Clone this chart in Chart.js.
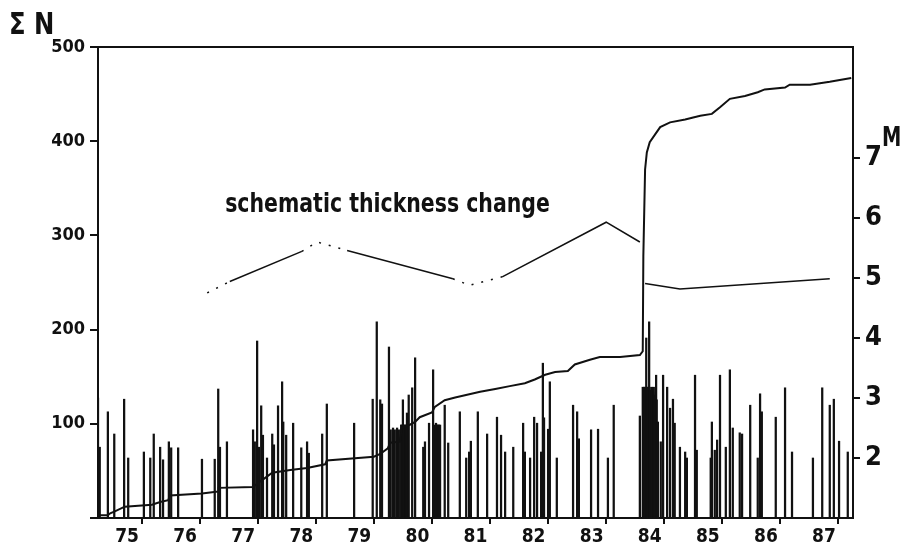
<!DOCTYPE html>
<html>
<head>
  <title>Cumulative events and magnitudes</title>
  <script src="https://cdn.jsdelivr.net/npm/chart.js@4"></script>
  <style>
    body { margin: 0; background: #fff; }
    #wrap { width: 904px; height: 544px; position: relative; }
  </style>
</head>
<body>
<div id="wrap"><canvas id="chart"></canvas></div>
<script>
// cumulative number of events (left axis)
const cumYears = [1975.00, 1975.17, 1975.21, 1975.29, 1975.46, 1975.93, 1976.07, 1976.21, 1976.24, 1976.79,
  1977.07, 1977.08, 1977.67, 1977.82, 1978.00, 1978.31, 1978.60, 1978.91, 1978.94, 1979.75,
  1979.86, 1979.99, 1980.03, 1980.20, 1980.23, 1980.37, 1980.46, 1980.54, 1980.75, 1980.80,
  1980.97, 1981.15, 1981.58, 1981.84, 1982.09, 1982.35, 1982.52, 1982.70, 1982.87, 1983.09,
  1983.21, 1983.47, 1983.64, 1983.99, 1984.33, 1984.38, 1984.39, 1984.42, 1984.45, 1984.50,
  1984.59, 1984.68, 1984.85, 1985.11, 1985.37, 1985.57, 1985.71, 1985.88, 1986.14, 1986.36,
  1986.48, 1986.83, 1986.91, 1987.26, 1987.60, 1987.97];
const cumCounts = [3, 3, 5, 7, 12, 14, 17, 19, 24, 26,
  28, 32, 33, 40, 48, 51, 53, 57, 61, 65,
  68, 74, 80, 81, 96, 99, 102, 107, 112, 118,
  125, 128, 134, 137, 140, 143, 147, 152, 155, 156,
  163, 168, 171, 171, 173, 177, 278, 370, 388, 399,
  407, 415, 420, 423, 427, 429, 436, 445, 448, 452,
  455, 457, 460, 460, 463, 467];

// schematic thickness change (drawn against the left axis)
const thickYears = [1976.88, 1977.27, 1978.51, 1978.77, 1979.29, 1981.11, 1981.40, 1981.96, 1983.75, 1984.33];
const thickValues = [239, 251, 283, 293, 284, 254, 247, 256, 314, 293];
const thickYears2 = [1984.42, 1985.02, 1987.60];
const thickValues2 = [249, 243, 254];

// single events: time and magnitude M (right axis)
const eventYears = [1975.00, 1975.03, 1975.17, 1975.28, 1975.45, 1975.52, 1975.79, 1975.90, 1975.96, 1976.07,
  1976.12, 1976.22, 1976.26, 1976.38, 1976.79, 1977.01, 1977.07, 1977.10, 1977.22, 1977.67,
  1977.70, 1977.74, 1977.77, 1977.81, 1977.84, 1977.91, 1978.00, 1978.03, 1978.10, 1978.17,
  1978.19, 1978.24, 1978.36, 1978.50, 1978.60, 1978.63, 1978.86, 1978.94, 1979.41, 1979.73,
  1979.80, 1979.86, 1979.89, 1980.01, 1980.04, 1980.08, 1980.11, 1980.15, 1980.18, 1980.22,
  1980.23, 1980.25, 1980.27, 1980.29, 1980.30, 1980.32, 1980.35, 1980.41, 1980.46, 1980.60,
  1980.63, 1980.70, 1980.77, 1980.80, 1980.82, 1980.84, 1980.85, 1980.87, 1980.89, 1980.97,
  1981.03, 1981.23, 1981.34, 1981.39, 1981.42, 1981.54, 1981.70, 1981.87, 1981.94, 1982.01,
  1982.15, 1982.32, 1982.35, 1982.44, 1982.51, 1982.56, 1982.63, 1982.66, 1982.68, 1982.75,
  1982.78, 1982.90, 1983.18, 1983.25, 1983.28, 1983.49, 1983.61, 1983.78, 1983.88, 1984.33,
  1984.38, 1984.40, 1984.42, 1984.44, 1984.45, 1984.47, 1984.49, 1984.50, 1984.52, 1984.54,
  1984.56, 1984.57, 1984.59, 1984.61, 1984.62, 1984.64, 1984.69, 1984.73, 1984.80, 1984.85,
  1984.90, 1984.93, 1985.02, 1985.11, 1985.14, 1985.28, 1985.31, 1985.55, 1985.57, 1985.62,
  1985.66, 1985.71, 1985.81, 1985.88, 1985.93, 1986.05, 1986.09, 1986.23, 1986.36, 1986.40,
  1986.43, 1986.67, 1986.83, 1986.95, 1987.31, 1987.47, 1987.60, 1987.67, 1987.76, 1987.91];
const eventMags = [3.00, 2.18, 2.77, 2.40, 2.98, 2.00, 2.10, 2.00, 2.40, 2.18,
  1.97, 2.27, 2.17, 2.17, 1.98, 1.98, 3.15, 2.18, 2.27, 2.47,
  2.27, 3.95, 2.18, 2.87, 2.38, 2.00, 2.40, 2.22, 2.87, 3.27,
  2.60, 2.38, 2.58, 2.17, 2.27, 2.08, 2.40, 2.90, 2.58, 2.98,
  4.27, 2.97, 2.90, 3.85, 2.47, 2.50, 2.47, 2.50, 2.47, 2.55,
  2.55, 2.97, 2.55, 2.55, 2.55, 2.75, 3.05, 3.17, 3.67, 2.18,
  2.27, 2.58, 3.47, 2.55, 2.58, 2.55, 2.55, 2.55, 2.55, 2.88,
  2.25, 2.77, 2.00, 2.10, 2.28, 2.77, 2.40, 2.68, 2.38, 2.10,
  2.18, 2.58, 2.10, 2.00, 2.68, 2.58, 2.10, 3.58, 2.67, 2.48,
  3.27, 2.00, 2.88, 2.77, 2.32, 2.47, 2.48, 2.00, 2.88, 2.70,
  3.18, 3.18, 3.18, 4.00, 3.18, 3.18, 4.27, 3.18, 3.13, 3.18,
  3.10, 3.18, 3.05, 3.38, 2.97, 2.60, 2.27, 3.38, 3.18, 2.83,
  2.98, 2.58, 2.18, 2.10, 2.00, 3.38, 2.13, 2.00, 2.60, 2.13,
  2.30, 3.38, 2.18, 3.47, 2.50, 2.42, 2.40, 2.88, 2.00, 3.07,
  2.77, 2.68, 3.17, 2.10, 2.00, 3.17, 2.88, 2.98, 2.28, 2.10];

// axis ticks and labels
const yearStarts = [1975, 1976, 1977, 1978, 1979, 1980, 1981, 1982, 1983, 1984, 1985, 1986, 1987, 1988];
const yearLabels = ['75', '76', '77', '78', '79', '80', '81', '82', '83', '84', '85', '86', '87'];
const countTicks = [0, 100, 200, 300, 400, 500];
const magTicks = [2, 3, 4, 5, 6, 7];

const FONT = "'Liberation Sans Narrow', 'DejaVu Sans Condensed', 'Roboto Condensed', sans-serif";
const INK = '#111';
const dottedSegments = [0, 2, 3, 5, 6];

function zip(xs, ys) {
  return xs.map((x, i) => ({ x: x, y: ys[i] }));
}

// condensed bold text, like the lettering of the original figure
function narrowText(ctx, text, x, y, size, squeeze) {
  ctx.save();
  ctx.font = 'bold ' + size + 'px ' + FONT;
  ctx.translate(x, y);
  ctx.scale(squeeze, 1);
  ctx.fillText(text, 0, 0);
  ctx.restore();
}

const textPlugin = {
  id: 'texts',
  afterDraw(chart) {
    const ctx = chart.ctx;
    const a = chart.chartArea;
    const sx = chart.scales.x;
    const sy = chart.scales.y;
    ctx.save();
    // top frame line
    ctx.strokeStyle = INK;
    ctx.lineWidth = 2;
    ctx.beginPath();
    ctx.moveTo(a.left - 1, a.top);
    ctx.lineTo(a.right + 1, a.top);
    ctx.stroke();

    ctx.fillStyle = INK;
    ctx.textBaseline = 'alphabetic';
    ctx.textAlign = 'left';
    narrowText(ctx, '\u03A3 N', 9, 34, 30, 0.9);
    narrowText(ctx, 'M', 882, 146, 27, 0.8);
    narrowText(ctx, 'schematic thickness change', sx.getPixelForValue(1977.19), sy.getPixelForValue(324.5), 26, 0.875);
    ctx.restore();
  }
};

const ctx = document.getElementById('chart');
new Chart(ctx, {
  type: 'bar',
  data: {
    datasets: [
      {
        type: 'line',
        label: 'cumulative',
        data: zip(cumYears, cumCounts),
        yAxisID: 'y',
        borderColor: INK,
        borderWidth: 2,
        pointRadius: 0,
        tension: 0,
        order: 1
      },
      {
        type: 'line',
        label: 'thickness',
        data: zip(thickYears, thickValues),
        yAxisID: 'y',
        borderColor: INK,
        borderWidth: 1.5,
        pointRadius: 0,
        tension: 0,
        order: 1,
        segment: {
          borderDash: c => dottedSegments.includes(c.p0DataIndex) ? [2, 8] : undefined
        }
      },
      {
        type: 'line',
        label: 'thickness 2',
        data: zip(thickYears2, thickValues2),
        yAxisID: 'y',
        borderColor: INK,
        borderWidth: 1.5,
        pointRadius: 0,
        tension: 0,
        order: 1
      },
      {
        label: 'events',
        data: zip(eventYears, eventMags),
        yAxisID: 'y1',
        backgroundColor: INK,
        barThickness: 1.6,
        order: 3
      }
    ]
  },
  options: {
    responsive: true,
    maintainAspectRatio: false,
    animation: false,
    layout: { padding: { top: 47, left: 0, right: 0, bottom: 0 } },
    plugins: {
      legend: { display: false },
      tooltip: { enabled: false }
    },
    scales: {
      x: {
        type: 'linear',
        min: 1975,
        max: 1988,
        offset: false,
        afterBuildTicks: scale => {
          const ticks = [];
          yearStarts.forEach((y, i) => {
            ticks.push({ value: y });
            if (i < yearLabels.length) ticks.push({ value: y + 0.5 });
          });
          scale.ticks = ticks;
        },
        afterFit: scale => { scale.height = 26; },
        ticks: {
          autoSkip: false,
          maxRotation: 0,
          padding: 2,
          color: INK,
          font: { family: FONT, size: 19, weight: 'bold' },
          callback: v => (v % 1 !== 0) ? yearLabels[Math.floor(v) - yearStarts[0]] : ''
        },
        grid: {
          drawOnChartArea: false,
          drawTicks: true,
          tickLength: 6,
          lineWidth: 2,
          color: c => (c.tick && c.tick.value % 1 !== 0) ? 'rgba(0,0,0,0)' : INK
        },
        border: { display: true, color: INK, width: 2 }
      },
      y: {
        position: 'left',
        min: 0,
        max: 500,
        afterBuildTicks: scale => { scale.ticks = countTicks.map(v => ({ value: v })); },
        afterFit: scale => { scale.width = 98; },
        ticks: {
          padding: 5,
          color: INK,
          font: { family: FONT, size: 18, weight: 'bold' },
          callback: v => v === 0 ? '' : v
        },
        grid: {
          drawOnChartArea: false,
          drawTicks: true,
          tickLength: 8,
          lineWidth: 2,
          color: INK
        },
        border: { display: true, color: INK, width: 2 }
      },
      y1: {
        position: 'right',
        min: 1,
        max: 8.85,
        afterBuildTicks: scale => { scale.ticks = magTicks.map(v => ({ value: v })); },
        afterFit: scale => { scale.width = 51; },
        ticks: {
          padding: 5,
          color: INK,
          font: { family: FONT, size: 27, weight: 'bold' }
        },
        grid: {
          drawOnChartArea: false,
          drawTicks: true,
          tickLength: 7,
          lineWidth: 2,
          color: INK
        },
        border: { display: true, color: INK, width: 2 }
      }
    }
  },
  plugins: [textPlugin]
});
</script>
</body>
</html>
